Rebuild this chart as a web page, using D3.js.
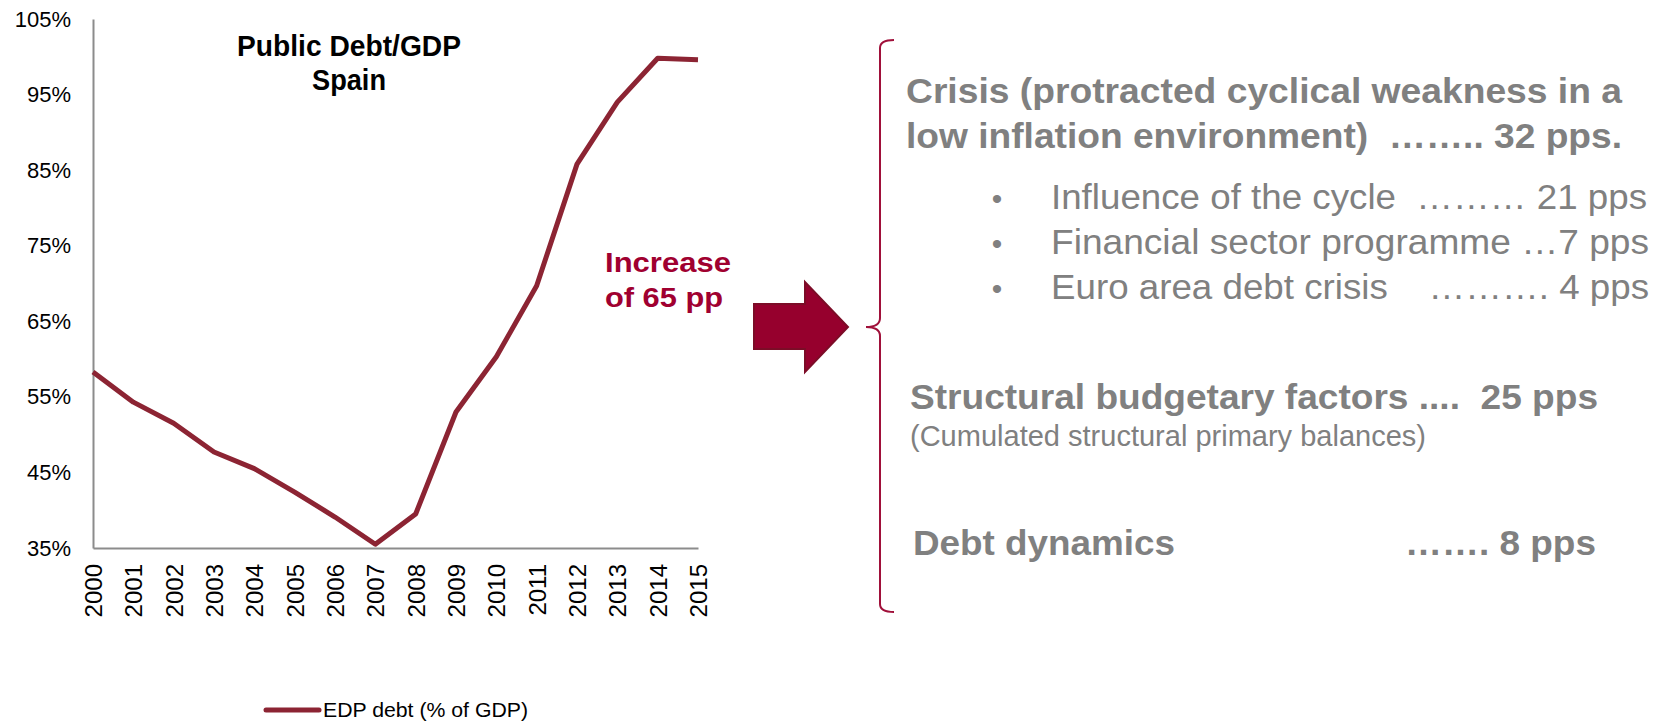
<!DOCTYPE html>
<html>
<head>
<meta charset="utf-8">
<style>
  body { margin: 0; background: #fff; }
  svg text { font-family: "Liberation Sans", Arial, sans-serif; }
  .pre { white-space: pre; }
</style>
</head>
<body>
<script src="https://d3js.org/d3.v7.min.js"></script>
<script>
// data
var years = [2000, 2001, 2002, 2003, 2004, 2005, 2006, 2007, 2008, 2009, 2010, 2011, 2012, 2013, 2014, 2015];
var debt = [58.3, 54.3, 51.5, 47.7, 45.5, 42.4, 39.1, 35.5, 39.5, 53.0, 60.3, 69.7, 85.8, 94.0, 99.8, 99.6];
var yTicks = [35, 45, 55, 65, 75, 85, 95, 105];
var seriesName = "EDP debt (% of GDP)";
var titleLines = ["Public Debt/GDP", "Spain"];
var noteLines = ["Increase", "of 65 pp"];

// right-hand breakdown
var crisisLines = ["Crisis (protracted cyclical weakness in a", "low inflation environment)  …….. 32 pps."];
var bulletLines = ["Influence of the cycle  ……… 21 pps", "Financial sector programme …7 pps", "Euro area debt crisis    ………. 4 pps"];
var structLines = ["Structural budgetary factors ....  25 pps", "(Cumulated structural primary balances)"];
var dynLines = ["Debt dynamics", "……. 8 pps"];

var W = 1665, H = 722;
var svg = d3.select("body").append("svg")
    .attr("width", W)
    .attr("height", H);

var x = d3.scaleLinear().domain([2000, 2015]).range([93, 698]);
var y = d3.scaleLinear().domain([35, 105]).range([548, 19]);

var lineColor = "#8c2433";
var grey = "#808080";
var red = "#a00030";

// y axis
var yAxis = d3.axisLeft(y)
    .tickValues(yTicks)
    .tickFormat(function(d) { return d + "%"; })
    .tickSize(0)
    .tickPadding(22);

var gy = svg.append("g")
    .attr("transform", "translate(" + x(2000) + ",0)")
    .call(yAxis);
gy.select(".domain").attr("stroke", "#8c8c8c").attr("stroke-width", 2);
gy.selectAll("text").attr("font-size", 22).attr("fill", "#000");

// x axis
var xAxis = d3.axisBottom(x)
    .tickValues(years)
    .tickFormat(d3.format("d"))
    .tickSize(0)
    .tickSizeOuter(0);

var gx = svg.append("g")
    .attr("transform", "translate(0," + y(35) + ")")
    .call(xAxis);
gx.select(".domain").attr("stroke", "#8c8c8c").attr("stroke-width", 2);
gx.selectAll("text")
    .attr("font-size", 24)
    .attr("fill", "#000")
    .attr("text-anchor", "end")
    .attr("transform", "rotate(-90)")
    .attr("x", -16)
    .attr("y", 0)
    .attr("dy", "0.36em");

// the series
var line = d3.line()
    .x(function(d, i) { return x(years[i]); })
    .y(function(d) { return y(d); });

svg.append("path")
    .datum(debt)
    .attr("fill", "none")
    .attr("stroke", lineColor)
    .attr("stroke-width", 5)
    .attr("stroke-linejoin", "round")
    .attr("d", line);

// title
svg.selectAll(".title").data(titleLines).enter().append("text")
    .attr("x", 349)
    .attr("y", function(d, i) { return 56 + i * 34; })
    .attr("text-anchor", "middle")
    .attr("font-family", "Lato, 'Open Sans', sans-serif")
    .attr("font-weight", "bold")
    .attr("font-size", 29)
    .attr("textLength", function(d, i) { return [224, 74][i]; })
    .attr("lengthAdjust", "spacingAndGlyphs")
    .text(function(d) { return d; });

// legend
svg.append("line")
    .attr("x1", 266).attr("x2", 319)
    .attr("y1", 710).attr("y2", 710)
    .attr("stroke", lineColor)
    .attr("stroke-width", 5)
    .attr("stroke-linecap", "round");
svg.append("text")
    .attr("x", 323).attr("y", 717)
    .attr("font-size", 21)
    .attr("textLength", 205).attr("lengthAdjust", "spacingAndGlyphs")
    .text(seriesName);

// increase note
svg.selectAll(".note").data(noteLines).enter().append("text")
    .attr("x", 605)
    .attr("y", function(d, i) { return 272 + i * 35; })
    .attr("font-size", 28)
    .attr("font-weight", "bold")
    .attr("fill", red)
    .attr("textLength", function(d, i) { return [126, 118][i]; })
    .attr("lengthAdjust", "spacingAndGlyphs")
    .text(function(d) { return d; });

// block arrow
svg.append("path")
    .attr("d", "M754,304 L805,304 L805,282 L848,327 L805,372 L805,349 L754,349 Z")
    .attr("fill", "#96002d")
    .attr("stroke", "#7c0c27")
    .attr("stroke-width", 2)
    .attr("stroke-linejoin", "miter");

// brace
svg.append("path")
    .attr("d", "M894,40 Q880,40 880,48 L880,318 Q880,327 866,327 Q880,327 880,336 L880,604 Q880,612 894,612")
    .attr("fill", "none")
    .attr("stroke", "#a0103a")
    .attr("stroke-width", 2);

// breakdown text
function addText(str, xx, yy, size, weight, len) {
    svg.append("text")
        .attr("class", "pre")
        .attr("x", xx).attr("y", yy)
        .attr("font-size", size)
        .attr("font-weight", weight)
        .attr("fill", grey)
        .attr("textLength", len)
        .attr("lengthAdjust", "spacingAndGlyphs")
        .text(str);
}

addText(crisisLines[0], 906, 103, 35, "bold", 716);
addText(crisisLines[1], 906, 148, 35, "bold", 716);

var bulletW = [596, 598, 598];
bulletLines.forEach(function(s, i) {
    var yy = 209 + i * 45;
    svg.append("text")
        .attr("x", 997).attr("y", yy)
        .attr("text-anchor", "middle")
        .attr("font-size", 30)
        .attr("fill", grey)
        .text("•");
    addText(s, 1051, yy, 35, "normal", bulletW[i]);
});

addText(structLines[0], 910, 409, 35, "bold", 688);
addText(structLines[1], 910, 446, 29, "normal", 516);

addText(dynLines[0], 913, 555, 35, "bold", 262);
addText(dynLines[1], 1405, 555, 35, "bold", 191);
</script>
</body>
</html>
